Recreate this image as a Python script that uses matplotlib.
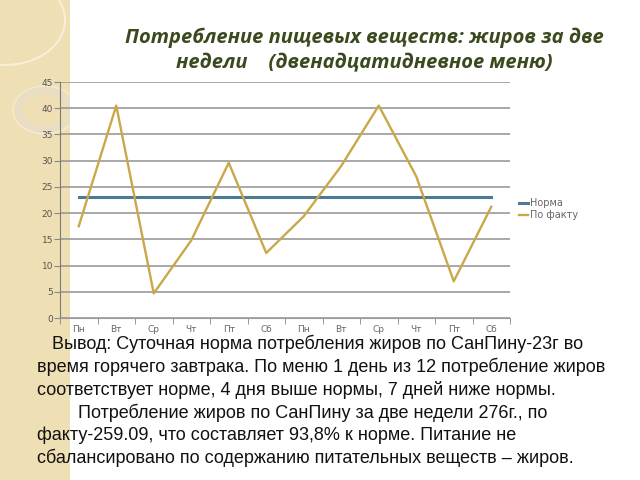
import matplotlib.pyplot as plt
from matplotlib.patches import Rectangle, Circle

days = ['Пн', 'Вт', 'Ср', 'Чт', 'Пт', 'Сб', 'Пн', 'Вт', 'Ср', 'Чт', 'Пт', 'Сб']
norma = [23] * 12
fakt = [17.5, 40.5, 4.7, 14.8, 29.6, 12.4, 19.4, 29.0, 40.5, 27.0, 7.0, 21.2]

fig = plt.figure(figsize=(6.4, 4.8), dpi=100)
fig.patch.set_facecolor('white')

# beige strip on the left with faint rings
strip = Rectangle((0, 0), 70 / 640, 1, transform=fig.transFigure,
                  facecolor='#efdfb4', edgecolor='none', zorder=-2)
fig.add_artist(strip)
for cx, cy, r, w, c in [(5, 20, 60, 1.5, '#f8efd8'), (45, 110, 26, 5, '#e9dec4'),
                        (45, 110, 32, 1.0, '#f4ebd4')]:
    ring = Circle((cx / 640, 1 - cy / 480), r / 640, transform=fig.transFigure,
                  facecolor='none', edgecolor=c, lw=w, zorder=-1)
    fig.add_artist(ring)
    ring.set_clip_path(strip)

ax = fig.add_axes([60 / 640, 1 - 318 / 480, 450 / 640, 236 / 480])
ax.patch.set_alpha(0)
x = list(range(len(days)))
ax.plot(x, norma, color='#4a7a94', lw=2.2, label='Норма')
ax.plot(x, fakt, color='#c9a84a', lw=1.7, label='По факту')

ax.set_xlim(-0.5, 11.5)
ax.set_ylim(0, 45)
ax.set_yticks(range(0, 46, 5))
ax.set_xticks(x)
ax.set_xticklabels(days)
ax.set_xticks([i + 0.5 for i in range(-1, 12)], minor=True)
ax.tick_params(axis='x', which='major', length=0, labelsize=6.5, colors='#666666', pad=5)
ax.tick_params(axis='x', which='minor', length=4, color='#888888', direction='out')
ax.tick_params(axis='y', length=4, color='#888888', labelsize=6.5, labelcolor='#555555', pad=1)
ax.grid(axis='y', color='#9a9a9a', lw=1.2)
ax.set_axisbelow(True)
for s in ['top', 'right']:
    ax.spines[s].set_visible(False)
ax.spines['left'].set_color('#7a7a7a')
ax.spines['bottom'].set_color('#9a9a9a')

leg = ax.legend(loc='center left', bbox_to_anchor=(1.0, 0.46), frameon=False,
                fontsize=7, handlelength=0.9, handletextpad=0.25, labelspacing=0.2)
for t in leg.get_texts():
    t.set_color('#666666')

fig.text(0.57, 1 - 38 / 480, 'Потребление пищевых веществ: жиров за две',
         ha='center', va='center', fontsize=14.5, fontweight='bold', style='italic',
         family='Open Sans', color='#3b4a1e')
fig.text(0.57, 1 - 63 / 480, 'недели    (двенадцатидневное меню)',
         ha='center', va='center', fontsize=14.5, fontweight='bold', style='italic',
         family='Open Sans', color='#3b4a1e')

body = [
    (52, 'Вывод: Суточная норма потребления жиров по СанПину-23г во'),
    (37, 'время горячего завтрака. По меню 1 день из 12 потребление жиров'),
    (37, 'соответствует норме, 4 дня выше нормы, 7 дней ниже нормы.'),
    (78, 'Потребление жиров по СанПину за две недели 276г., по'),
    (37, 'факту-259.09, что составляет 93,8% к норме. Питание не'),
    (37, 'сбалансировано по содержанию питательных веществ – жиров.'),
]
for i, (xp, line) in enumerate(body):
    fig.text(xp / 640, 1 - (344 + i * 22.8) / 480, line, ha='left', va='center',
             fontsize=13, family='Liberation Sans', color='#111111')

fig.savefig('out.png', dpi=100)
